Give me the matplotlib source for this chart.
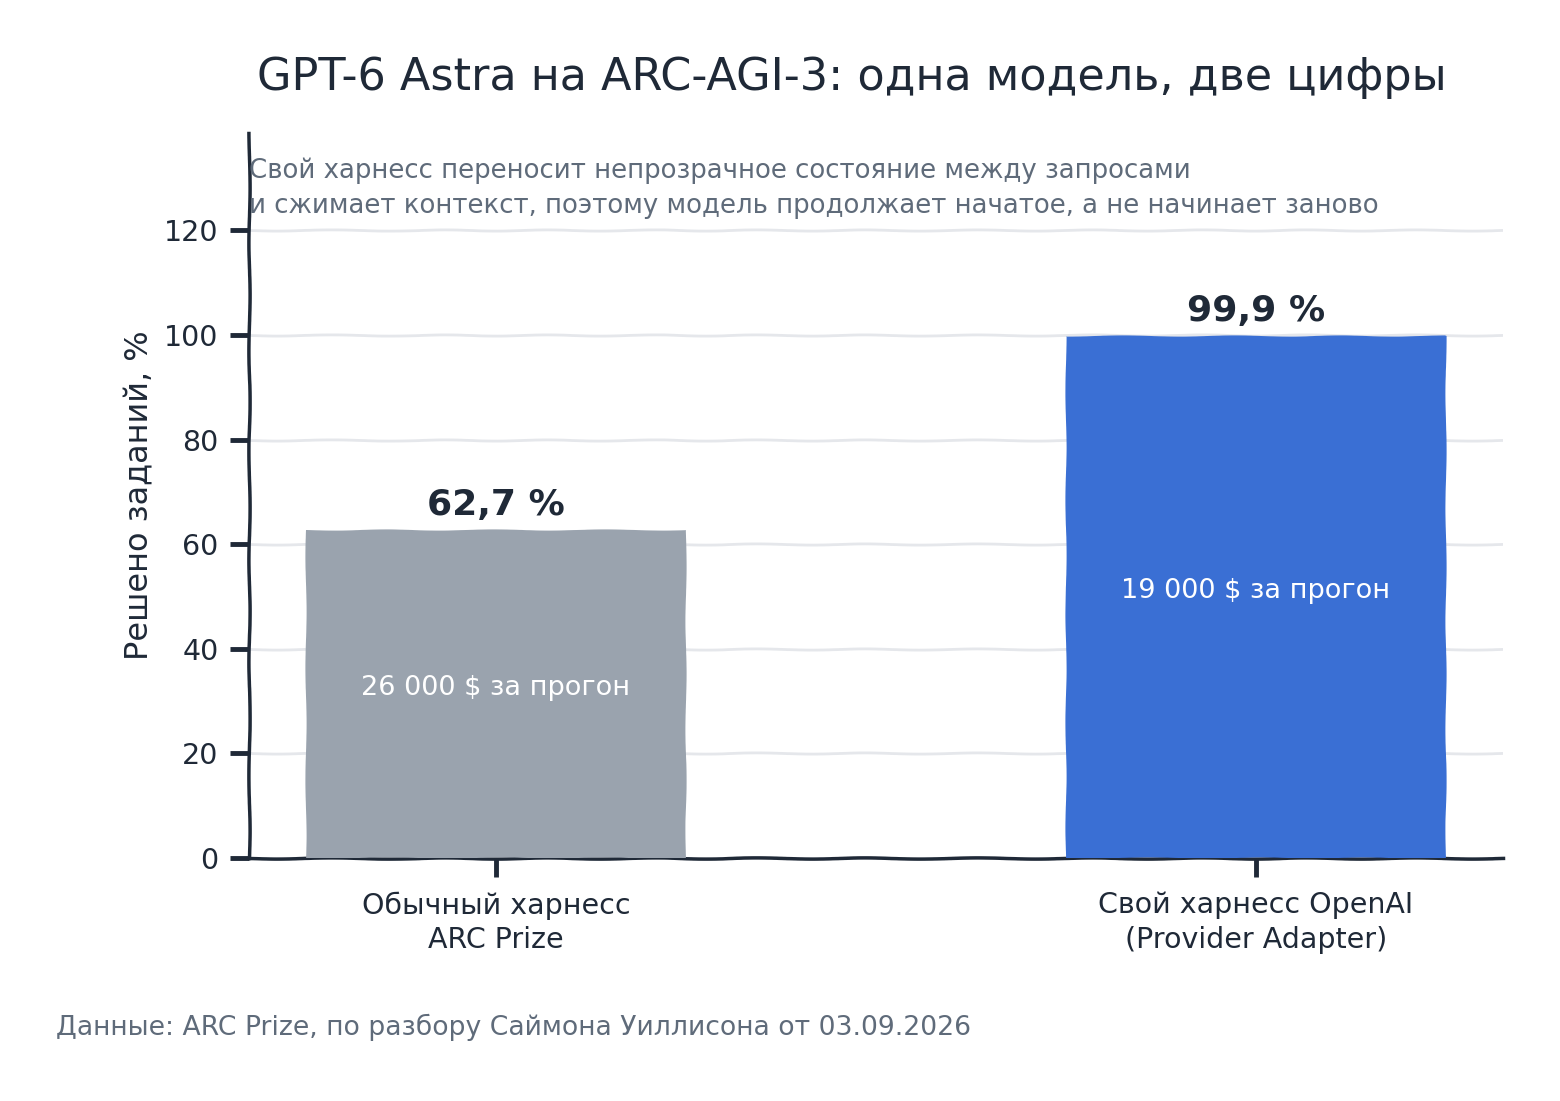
import matplotlib
matplotlib.use("Agg")
import matplotlib.pyplot as plt

categories = ["Обычный харнесс\nARC Prize", "Свой харнесс OpenAI\n(Provider Adapter)"]
solved = [62.7, 99.9]
value_labels = ["62,7 %", "99,9 %"]
cost_labels = ["26 000 $ за прогон", "19 000 $ за прогон"]
bar_colors = ["#9aa3ae", "#3a6fd4"]
yticks = [0, 20, 40, 60, 80, 100, 120]

plt.xkcd(scale=0.6, length=120, randomness=2)
plt.rcParams['font.family'] = ['DejaVu Sans']
plt.rcParams['path.effects'] = []

fig = plt.figure(figsize=(15.6, 11.01), dpi=100)
ax = fig.add_axes([0.1596, 0.2207, 0.8039, 0.6583])

x = list(range(len(categories)))
ax.bar(x, solved, width=0.5, color=bar_colors, edgecolor='none', zorder=3)

for xi, v, lab, cost in zip(x, solved, value_labels, cost_labels):
    ax.text(xi, v + 1.5, lab, ha='center', va='bottom', fontsize=26,
            fontweight='bold', color='#1f2937', zorder=4)
    ax.text(xi, v / 2 + 1.2, cost, ha='center', va='center', fontsize=19.5,
            color='white', zorder=4)

ax.set_xlim(-0.325, 1.325)
ax.set_ylim(0, 138.6)
ax.set_yticks(yticks)
ax.set_xticks(x)
ax.set_xticklabels(categories, fontsize=20.5, color='#1f2937', linespacing=1.3)
ax.tick_params(axis='y', labelsize=20.5, colors='#1f2937', length=14, width=3.5, pad=8)
ax.tick_params(axis='x', length=14, width=3.5, pad=10, colors='#1f2937')
ax.set_ylabel("Решено заданий, %", fontsize=23, color='#1f2937', labelpad=6)

ax.yaxis.grid(True, color='#e5e7eb', linewidth=2, zorder=0)
ax.set_axisbelow(True)
for side in ['top', 'right']:
    ax.spines[side].set_visible(False)
for side in ['left', 'bottom']:
    ax.spines[side].set_color('#1f2937')
    ax.spines[side].set_linewidth(2.5)

ax.text(0.0, 0.966, "Свой харнесс переносит непрозрачное состояние между запросами\n"
        "и сжимает контекст, поэтому модель продолжает начатое, а не начинает заново",
        transform=ax.transAxes, ha='left', va='top', fontsize=18.7,
        color='#5f6b7a', linespacing=1.45)

fig.text(0.546, 0.93, "GPT-6 Astra на ARC-AGI-3: одна модель, две цифры",
         ha='center', va='center', fontsize=32, color='#1f2937')
fig.text(0.036, 0.067, "Данные: ARC Prize, по разбору Саймона Уиллисона от 03.09.2026",
         ha='left', va='center', fontsize=19.2, color='#5f6b7a')

fig.savefig("out.png", dpi=100, facecolor='white')
